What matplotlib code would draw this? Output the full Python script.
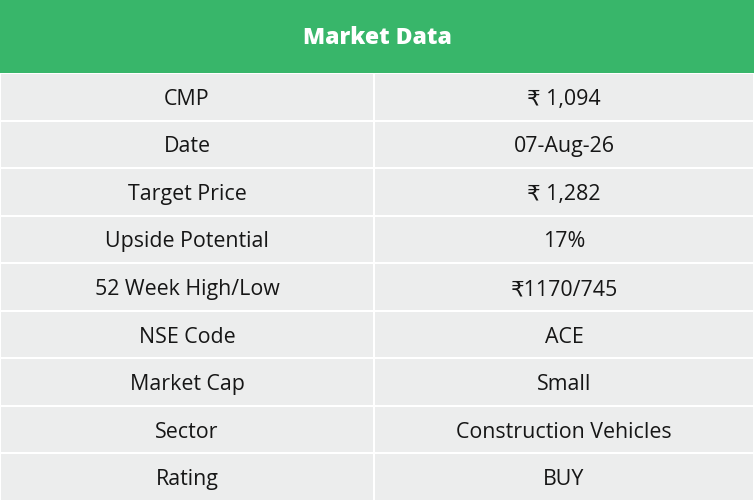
import matplotlib
matplotlib.use("Agg")
import matplotlib.pyplot as plt
from matplotlib.patches import Rectangle

title = "Market Data"
labels = ["CMP", "Date", "Target Price", "Upside Potential", "52 Week High/Low",
          "NSE Code", "Market Cap", "Sector", "Rating"]
values = ["₹ 1,094", "07-Aug-26", "₹ 1,282", "17%", "₹1170/745",
          "ACE", "Small", "Construction Vehicles", "BUY"]

GREEN = "#38b66a"
CELL = "#eceded"
TEXT = "#161616"
FONT = ["Open Sans", "DejaVu Sans"]

W, H = 754, 501
header_h = 73
row_h = (H - header_h) / len(labels)
col_split = 374

fig = plt.figure(figsize=(W / 100, H / 100), dpi=100)
ax = fig.add_axes([0, 0, 1, 1])
ax.set_xlim(0, W)
ax.set_ylim(H, 0)
ax.axis("off")

ax.add_patch(Rectangle((0, 0), W, header_h, color=GREEN, lw=0))
ax.text(W / 2, header_h / 2 + 1.5, title, ha="center", va="center", color="white",
        fontsize=16.5, fontweight="heavy", family=FONT)

for i, (lab, val) in enumerate(zip(labels, values)):
    y0 = header_h + i * row_h
    for x0, x1, txt in [(0, col_split, lab), (col_split, W, val)]:
        ax.add_patch(Rectangle((x0 + 1, y0 + 1), x1 - x0 - 2, row_h - 2,
                               facecolor=CELL, edgecolor="none"))
        ax.text((x0 + x1) / 2, y0 + row_h / 2 + 2.5, txt, ha="center", va="center",
                color=TEXT, fontsize=15.4, family=FONT)

fig.savefig("out.png", dpi=100, facecolor="white")
